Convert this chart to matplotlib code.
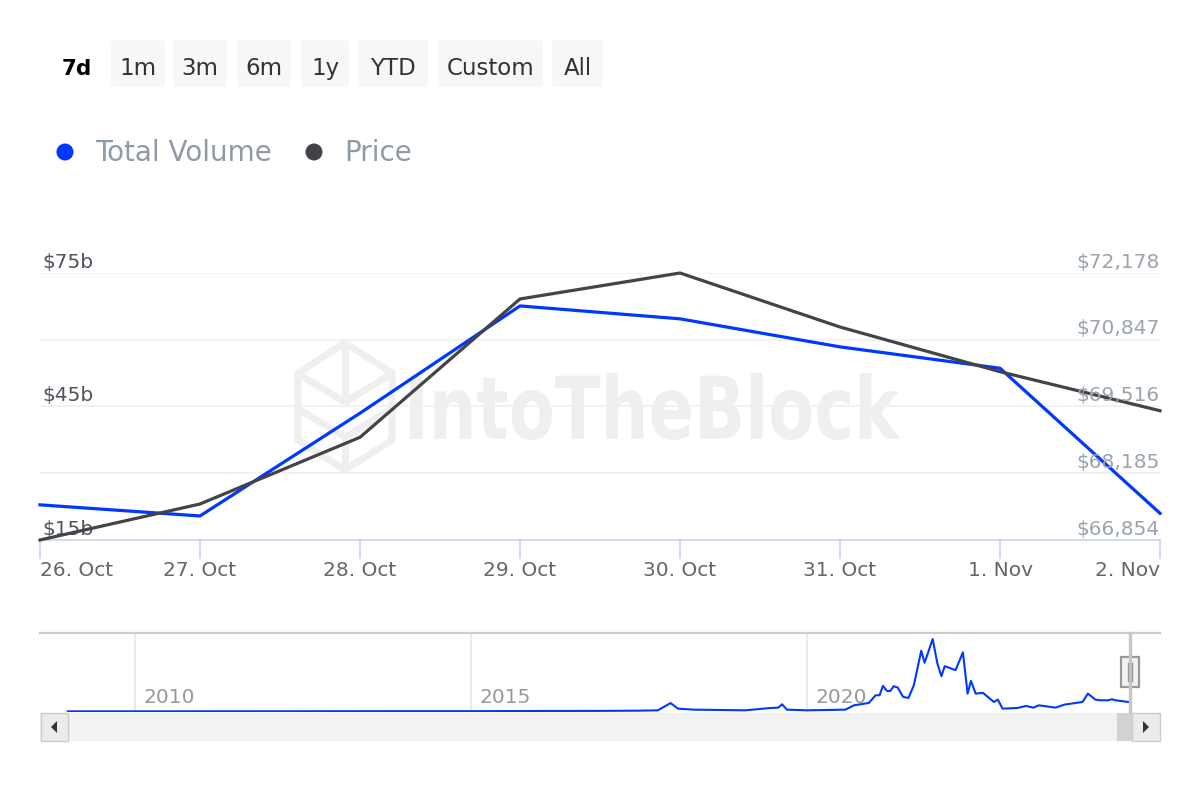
import matplotlib
matplotlib.use("Agg")
import matplotlib.pyplot as plt
import pandas as pd
from matplotlib.patches import FancyBboxPatch, Rectangle, Polygon, PathPatch, Circle
from matplotlib.textpath import TextPath
from matplotlib.font_manager import FontProperties
from matplotlib.transforms import Affine2D

plt.rcParams['font.family'] = ['DejaVu Sans']

# main chart data (7 days)
dates = ["2024-10-26", "2024-10-27", "2024-10-28", "2024-10-29",
         "2024-10-30", "2024-10-31", "2024-11-01", "2024-11-02"]
date_labels = ["26. Oct", "27. Oct", "28. Oct", "29. Oct",
               "30. Oct", "31. Oct", "1. Nov", "2. Nov"]
volume_b = [22.9, 20.4, 43.5, 67.6, 64.7, 58.4, 53.6, 21.0]
price_usd = [66854, 67572, 68902, 71660, 72178, 71101, 70210, 69432]

vol_ticks = [15, 30, 45, 60, 75]
vol_labels = ["$15b", "", "$45b", "", "$75b"]
price_ticks = [66854, 68185, 69516, 70847, 72178]

# navigator (full history of total volume, billions)
nav_year = [2009.0, 2010.0, 2011.0, 2012.0, 2013.0, 2014.0, 2015.0, 2016.0, 2016.9,
            2017.5, 2017.78, 2017.97, 2018.08, 2018.32, 2019.08, 2019.46, 2019.57,
            2019.63, 2019.70, 2020.0, 2020.57, 2020.70, 2020.92, 2021.02, 2021.08,
            2021.13, 2021.19, 2021.24, 2021.29, 2021.35, 2021.43, 2021.51, 2021.59,
            2021.70, 2021.75, 2021.87, 2021.94, 2022.0, 2022.05, 2022.21, 2022.32,
            2022.39, 2022.44, 2022.51, 2022.62, 2022.78, 2022.84, 2022.91, 2023.13,
            2023.26, 2023.37, 2023.45, 2023.70, 2023.83, 2024.10, 2024.18, 2024.29,
            2024.37, 2024.48, 2024.54, 2024.59, 2024.78]
nav_vol = [0, 0, 0.1, 0.2, 0.5, 0.8, 0.8, 1.5, 2,
           3, 4.5, 37, 12, 7.5, 4.5, 15, 16.5,
           31.5, 7.5, 4.5, 7.5, 27, 37.5, 72, 72,
           114, 91.5, 91.5, 112.5, 106.5, 64.5, 60, 117,
           271.5, 217.5, 324, 214.5, 157.5, 202.5, 184.5, 264,
           79.5, 136.5, 79.5, 82.5, 42, 52.5, 12, 15,
           24, 16.5, 27, 16.5, 30, 42, 79.5, 52.5,
           49.5, 49.5, 54, 49.5, 42]
nav_years_lab = [2010, 2015, 2020]

buttons = ["7d", "1m", "3m", "6m", "1y", "YTD", "Custom", "All"]
legend_names = ["Total Volume", "Price"]

BLUE = "#0038ff"
DARK = "#434348"

W, H = 1200, 800
fig = plt.figure(figsize=(12, 8), dpi=100)
fig.patch.set_facecolor("white")


def rect(x0, y0, x1, y1):
    # pixel box (top-down) -> figure fraction
    return [x0 / W, 1 - y1 / H, (x1 - x0) / W, (y1 - y0) / H]


# background overlay: watermark
bg = fig.add_axes([0, 0, 1, 1], zorder=-1)
bg.set_xlim(0, W)
bg.set_ylim(H, 0)
bg.axis("off")
wm = "#efefef"
tp = TextPath((0, 0), "IntoTheBlock", size=100,
              prop=FontProperties(family="DejaVu Sans", weight="bold"))
bb = tp.get_extents()
tr = Affine2D().translate(-bb.x0, -bb.y0).scale(490 / bb.width, -67 / bb.height).translate(410, 440)
bg.add_patch(PathPatch(tr.transform_path(tp), fc=wm, ec="none"))
hexx = [345, 392, 392, 345, 298, 298, 345]
hexy = [343, 373, 440, 470, 440, 373, 343]
bg.plot(hexx, hexy, color=wm, lw=5, solid_joinstyle="round")
bg.plot([300, 345, 390], [375, 402, 375], color=wm, lw=5)
bg.plot([345, 345], [345, 402], color=wm, lw=5)
bg.plot([300, 345, 390], [410, 437, 410], color=wm, lw=5)
bg.plot([345, 345], [437, 468], color=wm, lw=5)

# main chart
x = pd.to_datetime(dates)
ax = fig.add_axes(rect(40, 273, 1160, 540))
ax.set_facecolor("none")
ax.plot(x, volume_b, color=BLUE, lw=2.3, clip_on=False, zorder=3)
ax.set_xlim(x[0], x[-1])
ax.set_ylim(15, 75)
ax.set_yticks(vol_ticks)
ax.yaxis.grid(True, color="#f0f0f3", lw=1.2)
ax.set_axisbelow(True)
ax.tick_params(axis="y", length=0, labelleft=False)
ax.set_xticks(x)
ax.set_xticklabels(date_labels)
ax.tick_params(axis="x", length=14, width=1.2, color="#ccd6eb",
               labelcolor="#666666", labelsize=14.5, pad=1)
tl = ax.get_xticklabels()
tl[0].set_ha("left")
tl[-1].set_ha("right")
for s in ["top", "left", "right"]:
    ax.spines[s].set_visible(False)
ax.spines["bottom"].set_color("#ccd6eb")
ax.spines["bottom"].set_linewidth(1.2)
for v, lab in zip(vol_ticks, vol_labels):
    if lab:
        ax.annotate(lab, xy=(0, v), xycoords=("axes fraction", "data"),
                    xytext=(1.5, 3.8), textcoords="offset points",
                    ha="left", va="baseline", color="#4f555d", fontsize=14.5,
                    annotation_clip=False)

ax2 = ax.twinx()
ax2.plot(x, price_usd, color=DARK, lw=2.3, clip_on=False, zorder=3)
ax2.set_ylim(price_ticks[0], price_ticks[-1])
ax2.set_yticks([])
for s in ax2.spines.values():
    s.set_visible(False)
for p in price_ticks:
    ax2.annotate(f"${p:,}", xy=(1, p), xycoords=("axes fraction", "data"),
                 xytext=(0, 3.8), textcoords="offset points",
                 ha="right", va="baseline", color="#9ba4ae", fontsize=14.5,
                 annotation_clip=False)

# navigator
nav = fig.add_axes(rect(40, 633, 1160, 712))
nav.set_facecolor("none")
nav.plot(nav_year, nav_vol, color=BLUE, lw=1.5)
nav.set_xlim(2008.586, 2025.253)
nav.set_ylim(-3, 351)
nav.set_xticks(nav_years_lab)
nav.xaxis.grid(True, color="#e6e6e6", lw=1.2)
nav.set_axisbelow(True)
nav.tick_params(length=0, labelbottom=False, labelleft=False)
nav.set_yticks([])
for s in ["bottom", "left", "right"]:
    nav.spines[s].set_visible(False)
nav.spines["top"].set_color("#cccccc")
nav.spines["top"].set_linewidth(1.6)
for yr in nav_years_lab:
    nav.annotate(str(yr), xy=(yr, 0), xycoords=("data", "axes fraction"),
                 xytext=(5.8, 6.3), textcoords="offset points",
                 ha="left", va="baseline", color="#999999", fontsize=14.5)

# UI overlay: range buttons, legend, scrollbar, handle
ui = fig.add_axes([0, 0, 1, 1], zorder=5)
ui.set_xlim(0, W)
ui.set_ylim(H, 0)
ui.axis("off")
ui.patch.set_alpha(0)

boxes = [(111, 165), (173, 227), (237, 291), (301, 349), (358, 428), (438, 543), (552, 603)]
ui.text(77, 75, buttons[0], ha="center", va="baseline", fontsize=15.5,
        fontweight="bold", color="#000000")
for lab, (bx0, bx1) in zip(buttons[1:], boxes):
    ui.add_patch(FancyBboxPatch((bx0 + 3, 43), bx1 - bx0 - 6, 41,
                                boxstyle="round,pad=3", fc="#f7f7f7", ec="none"))
    ui.text((bx0 + bx1) / 2, 75, lab, ha="center", va="baseline",
            fontsize=16.5, color="#333333")

ui.add_patch(Circle((65, 152), 8.5, fc=BLUE, ec="none"))
ui.text(95, 161, legend_names[0], ha="left", va="baseline", fontsize=20, color="#8e9aa6")
ui.add_patch(Circle((314, 152), 8.5, fc=DARK, ec="none"))
ui.text(344, 161, legend_names[1], ha="left", va="baseline", fontsize=20, color="#8e9aa6")

# scrollbar
ui.add_patch(Rectangle((40, 713), 1120, 28, fc="#f2f2f2", ec="none"))
ui.add_patch(Rectangle((40.5, 713), 27, 28, fc="#ebebeb", ec="#cccccc", lw=1))
ui.add_patch(Polygon([[57, 721], [57, 733], [51, 727]], closed=True, fc="#333333", ec="none"))
ui.add_patch(Rectangle((1117, 713), 15, 28, fc="#d2d2d2", ec="none"))
ui.add_patch(Rectangle((1132, 713), 27.5, 28, fc="#ebebeb", ec="#cccccc", lw=1))
ui.add_patch(Polygon([[1143, 721], [1143, 733], [1149, 727]], closed=True, fc="#333333", ec="none"))

# navigator selection outline + handle
ui.plot([1130, 1130], [633, 712], color="#c6c6c6", lw=2.4)
ui.add_patch(Rectangle((1121, 657), 18, 30, fc="#f2f2f2", ec="#999999", lw=1.6))
ui.plot([1128, 1128], [663, 681], color="#999999", lw=1)
ui.plot([1132, 1132], [663, 681], color="#999999", lw=1)

fig.savefig("out.png", dpi=100)
